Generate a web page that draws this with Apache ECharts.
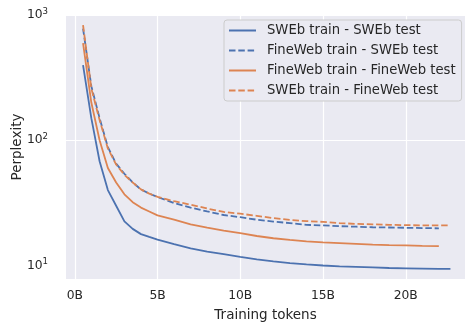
<!DOCTYPE html>
<html>
<head>
<meta charset="utf-8">
<script src="https://cdn.jsdelivr.net/npm/echarts@6/dist/echarts.min.js"></script>
<style>
  html, body { margin: 0; padding: 0; background: #ffffff; }
  #chart { width: 465px; height: 324px; }
</style>
</head>
<body>
<div id="chart"></div>
<script>
// Training tokens (billions) at each evaluation checkpoint
const tokensSWEb = [0.5, 1, 1.5, 2, 2.5, 3, 3.5, 4, 4.5, 5, 6, 7, 8, 9, 10, 11, 12, 13, 14, 15, 16, 17, 18, 19, 20, 21, 22, 22.7];
const tokensFineWeb = [0.5, 1, 1.5, 2, 2.5, 3, 3.5, 4, 4.5, 5, 6, 7, 8, 9, 10, 11, 12, 13, 14, 15, 16, 17, 18, 19, 20, 21, 22];

// Perplexity per train/test combination
const swebTrainSwebTest = [398, 150, 68, 40, 30, 22.5, 19.6, 17.8, 16.9, 16.1, 14.8, 13.7, 12.9, 12.3, 11.7, 11.2, 10.8, 10.45, 10.2, 10.0, 9.85, 9.75, 9.65, 9.55, 9.5, 9.45, 9.4, 9.4];
const finewebTrainSwebTest = [780, 270, 150, 88, 65, 54, 46, 40.5, 37.5, 35.2, 31.5, 29.0, 27.0, 25.3, 24.3, 23.2, 22.4, 21.8, 21.1, 20.9, 20.6, 20.4, 20.2, 20.1, 20.0, 19.9, 19.8];
const finewebTrainFinewebTest = [597, 200, 100, 60, 46, 37, 32, 29, 27, 25.1, 23.2, 21.3, 20.1, 19.0, 18.1, 17.2, 16.5, 16.0, 15.6, 15.3, 15.1, 14.9, 14.7, 14.55, 14.45, 14.35, 14.3];
const swebTrainFinewebTest = [830, 260, 145, 86, 64, 53, 46, 40.5, 37.5, 35.3, 32.6, 30.6, 28.5, 26.8, 25.9, 24.9, 23.9, 23.1, 22.6, 22.3, 21.8, 21.5, 21.3, 21.1, 21.0, 20.9, 20.9, 20.9];

// Axis ticks
const xTicks = [0, 5, 10, 15, 20];
const yTicks = [10, 100, 1000];

const seriesNames = [
  'SWEb train - SWEb test',
  'FineWeb train - SWEb test',
  'FineWeb train - FineWeb test',
  'SWEb train - FineWeb test'
];

const BLUE = '#4C72B0';
const ORANGE = '#DD8452';
const TEXT = '#262626';
const FONT = 'DejaVu Sans';

function pairs(xs, ys) {
  return xs.map((x, i) => [x, ys[i]]);
}

function lineSeries(name, xs, ys, color, dashed) {
  return {
    name: name,
    type: 'line',
    data: pairs(xs, ys),
    symbol: 'none',
    smooth: false,
    color: color,
    lineStyle: { color: color, width: 1.8, type: dashed ? [6.5, 2.8] : 'solid' }
  };
}

const chart = echarts.init(document.getElementById('chart'), null, { renderer: 'canvas' });

chart.setOption({
  animation: false,
  backgroundColor: '#ffffff',
  textStyle: { fontFamily: FONT, color: TEXT },
  grid: {
    left: 66, right: 0, top: 15, bottom: 45,
    containLabel: false,
    outerBoundsMode: 'none',
    show: true, backgroundColor: '#EAEAF2', borderWidth: 0
  },
  legend: {
    orient: 'vertical',
    left: 224,
    top: 20,
    data: seriesNames,
    padding: [4, 6, 4, 4],
    itemWidth: 27,
    itemHeight: 14,
    itemGap: 7,
    itemStyle: { opacity: 0 },
    backgroundColor: '#EAEAF2',
    borderColor: '#CCCCCC',
    borderWidth: 1,
    borderRadius: 3,
    textStyle: { fontFamily: FONT, fontSize: 13.2, color: TEXT, padding: [0, 0, 0, 6] }
  },
  xAxis: {
    type: 'value',
    min: -0.53,
    max: 23.58,
    name: 'Training tokens',
    nameLocation: 'middle',
    nameGap: 29,
    nameMoveOverlap: false,
    nameTextStyle: { fontFamily: FONT, fontSize: 13.5, color: TEXT },
    axisLine: { show: false },
    axisTick: { show: false, customValues: xTicks },
    axisLabel: {
      customValues: xTicks,
      margin: 11,
      fontFamily: FONT,
      fontSize: 12.3,
      color: TEXT,
      formatter: v => v + 'B'
    },
    splitLine: { show: true, lineStyle: { color: '#ffffff', width: 1.2 } }
  },
  yAxis: {
    type: 'log',
    logBase: 10,
    min: 7.8,
    max: 1000,
    name: 'Perplexity',
    nameLocation: 'middle',
    nameGap: 42,
    nameMoveOverlap: false,
    nameTextStyle: { fontFamily: FONT, fontSize: 13.5, color: TEXT },
    axisLine: { show: false },
    axisTick: { show: false, customValues: yTicks },
    axisLabel: {
      customValues: yTicks,
      margin: 18,
      fontFamily: FONT,
      fontSize: 12.3,
      color: TEXT,
      formatter: v => '10{sup|' + Math.round(Math.log10(v)) + '}',
      rich: {
        sup: { fontFamily: FONT, fontSize: 8.6, color: TEXT, verticalAlign: 'top', padding: [0, 0, 7, 0] }
      }
    },
    splitLine: { show: true, showMinLine: false, lineStyle: { color: '#ffffff', width: 1.2 } }
  },
  series: [
    lineSeries(seriesNames[0], tokensSWEb, swebTrainSwebTest, BLUE, false),
    lineSeries(seriesNames[1], tokensFineWeb, finewebTrainSwebTest, BLUE, true),
    lineSeries(seriesNames[2], tokensFineWeb, finewebTrainFinewebTest, ORANGE, false),
    lineSeries(seriesNames[3], tokensSWEb, swebTrainFinewebTest, ORANGE, true)
  ]
});
</script>
</body>
</html>
